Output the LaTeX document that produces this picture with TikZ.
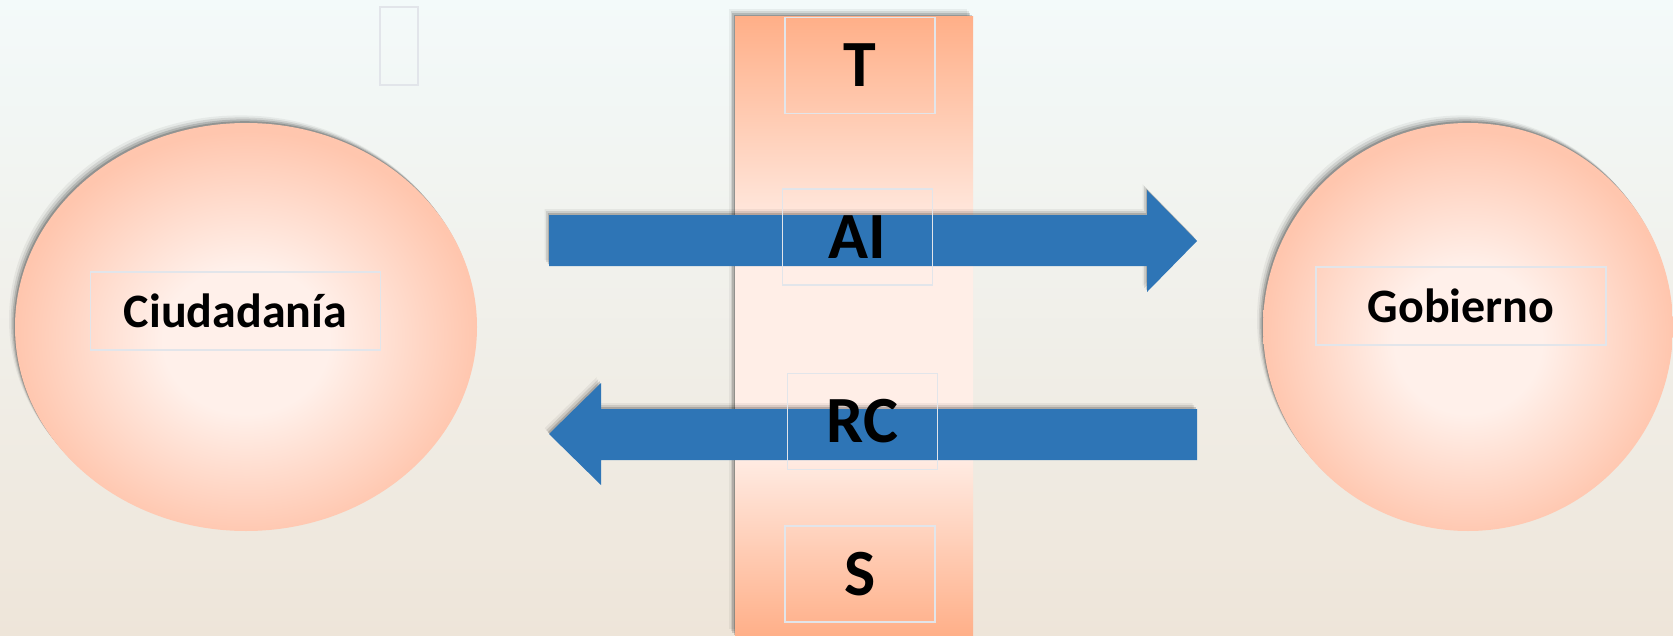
\documentclass[tikz,border=0pt]{standalone}
\usepackage{fontspec}
\setmainfont{Carlito}
\usetikzlibrary{shadows,shapes.geometric}
\definecolor{bgtop}{HTML}{F3FAFA}
\definecolor{bgbot}{HTML}{EEE5D9}
\definecolor{peach}{HTML}{FFAF88}
\definecolor{peachlight}{HTML}{FFEEE7}
\definecolor{ballin}{HTML}{FFF0EA}
\definecolor{ballout}{HTML}{FFC6AE}
\definecolor{arrowblue}{HTML}{2E75B6}
\definecolor{boxline}{HTML}{E2E5EA}
\pgfdeclareradialshading{ballshade}{\pgfpoint{0bp}{-2bp}}{color(0bp)=(ballin); color(9bp)=(ballin); color(25bp)=(ballout); color(50bp)=(ballout)}
\pgfdeclareverticalshading{colshade}{100bp}{color(0bp)=(peach); color(25bp)=(peach); color(40bp)=(peachlight); color(57bp)=(peachlight); color(75bp)=(peach); color(100bp)=(peach)}
\tikzset{
  softshadow/.style={
    drop shadow={shadow xshift=-0.6pt, shadow yshift=0.9pt, opacity=0.18, fill=black},
    drop shadow={shadow xshift=-1.3pt, shadow yshift=1.8pt, opacity=0.14, fill=black},
    drop shadow={shadow xshift=-2.1pt, shadow yshift=2.8pt, opacity=0.09, fill=black},
    drop shadow={shadow xshift=-3pt, shadow yshift=3.8pt, opacity=0.05, fill=black}},
  ball/.style={ellipse, shading=ballshade, draw=none, softshadow},
  labelbox/.style={draw=boxline, line width=0.8pt, inner sep=0pt, font=\bfseries},
  namebox/.style={labelbox, minimum width=145pt, minimum height=39pt, font=\bfseries\fontsize{24}{28}\selectfont},
  letterbox/.style={labelbox, minimum width=75pt, minimum height=48pt, font=\bfseries\fontsize{33}{38}\selectfont},
  bigarrow/.style={fill=arrowblue, draw=none,
    drop shadow={shadow xshift=-0.6pt, shadow yshift=0.9pt, opacity=0.16, fill=black},
    drop shadow={shadow xshift=-1.4pt, shadow yshift=1.9pt, opacity=0.10, fill=black},
    drop shadow={shadow xshift=-2.2pt, shadow yshift=2.9pt, opacity=0.05, fill=black}}
}
\begin{document}
\begin{tikzpicture}[x=0.5pt,y=-0.5pt]
\useasboundingbox (0,0) rectangle (1673,636);
% background
\shade[top color=bgtop, bottom color=bgbot] (0,0) rectangle (1673,636);
% empty box at top
\node[labelbox, minimum width=19pt, minimum height=39pt] (empty) at (399,46) {};
% central column
\node[rectangle, draw=none, minimum width=119pt, minimum height=310pt, inner sep=0pt,
  shading=colshade, softshadow] (column) at (854,327) {};
% circles
\node[ball, minimum width=231pt, minimum height=204pt] (ciud) at (246,327) {};
\node[ball, minimum width=205pt, minimum height=204pt] (gob) at (1468,327) {};
% arrows
\coordinate (raT) at (1197,241);
\fill[bigarrow] (549,215) -- (1147,215) -- (1147,190) -- (raT) -- (1147,292) -- (1147,266) -- (549,266) -- cycle;
\coordinate (laT) at (549,434);
\fill[bigarrow] (1197,409) -- (601,409) -- (601,383) -- (laT) -- (601,485) -- (601,460) -- (1197,460) -- cycle;
% label boxes
\node[namebox] (ciudlbl) at (235.5,311) {Ciudadanía};
\node[namebox] (goblbl) at (1461,306) {Gobierno};
\node[letterbox] (T) at (860,65.5) {T};
\node[letterbox] (AI) at (857.5,237) {AI};
\node[letterbox] (RC) at (862.5,421.5) {RC};
\node[letterbox] (S) at (860,574) {S};
\end{tikzpicture}
\end{document}
